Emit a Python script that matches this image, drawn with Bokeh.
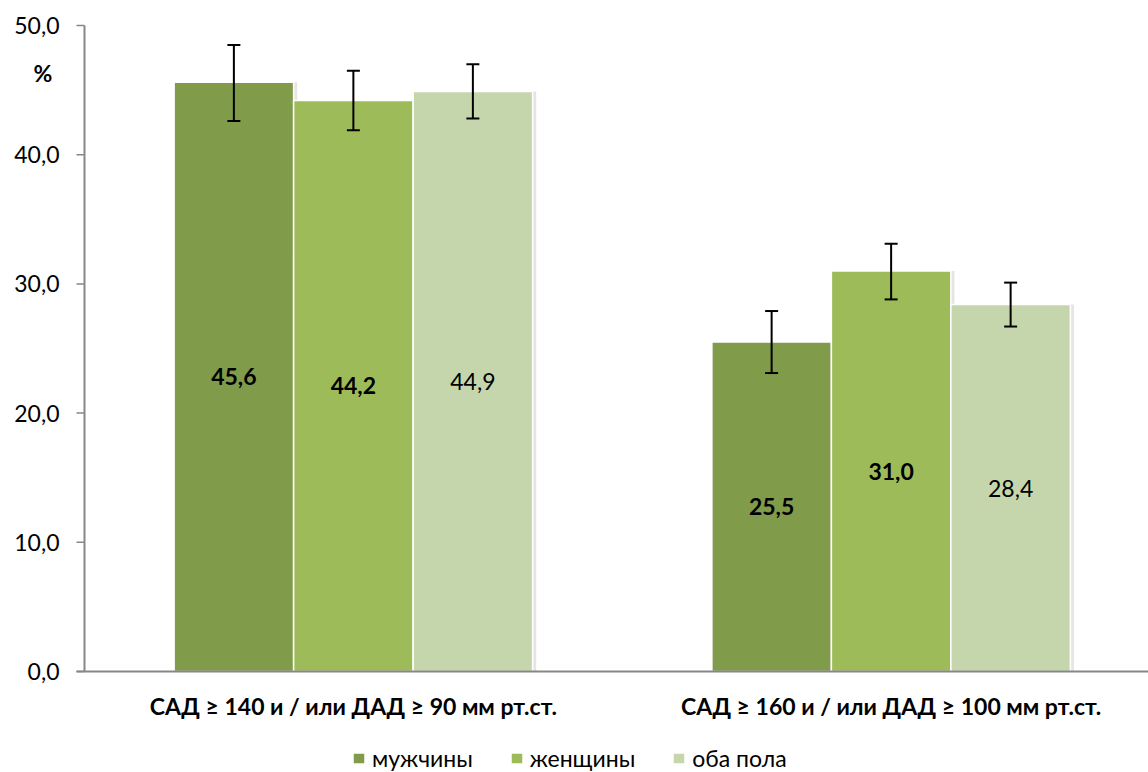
from bokeh.plotting import figure
from bokeh.models import (Range1d, Whisker, TeeHead, Legend, LegendItem, ColumnDataSource)
from bokeh.core.properties import value
from bokeh.embed import file_html
from bokeh.resources import INLINE

# ---- data ----
categories = ["САД ≥ 140 и / или ДАД ≥ 90 мм рт.ст.",
              "САД ≥ 160 и / или ДАД ≥ 100 мм рт.ст."]
series = ["мужчины", "женщины", "оба пола"]
men = [45.6, 25.5]
women = [44.2, 31.0]
both = [44.9, 28.4]
men_hi = [48.5, 27.9]
men_lo = [42.6, 23.1]
women_hi = [46.5, 33.1]
women_lo = [41.9, 28.8]
both_hi = [47.0, 30.1]
both_lo = [42.8, 26.7]
y_ticks = [0, 10, 20, 30, 40, 50]
y_tick_labels = ["0,0", "10,0", "20,0", "30,0", "40,0", "50,0"]
unit_label = "%"

# ---- styles / layout ----
colors = ["#809B4A", "#9EBB59", "#C6D6AC"]
label_styles = ["bold", "bold", "normal"]
FONT = "Lato"
FS = "23px"
AXIS_COLOR = "#878787"
W, H = 1148, 772
PX_X = 119.5            # pixels per bar unit
PX_Y = 646 / 50         # pixels per y unit
AXIS_LEFT_PX = 84       # y axis position (px from left)
AXIS_BOTTOM_PX = 671    # x axis position (px from top)
TOP_PX = 25             # y = 50 position
group_gap = 1.5
n_series = len(series)
group_step = n_series + group_gap
y_max = y_ticks[-1]

vals = [men, women, both]
his = [men_hi, women_hi, both_hi]
los = [men_lo, women_lo, both_lo]

x_axis_pos = -0.75                              # data x of y-axis
x_start = x_axis_pos - AXIS_LEFT_PX / PX_X
x_end = x_start + W / PX_X
y_top = y_max + TOP_PX / PX_Y
y_bottom = -(H - AXIS_BOTTOM_PX) / PX_Y
tick_len = 8 / PX_X

p = figure(width=W, height=H,
           x_range=Range1d(x_start, x_end), y_range=Range1d(y_bottom, y_top),
           x_axis_type=None, y_axis_type=None,
           output_backend="svg", toolbar_location=None,
           min_border=0, min_border_left=0, min_border_right=0,
           min_border_top=0, min_border_bottom=0)
p.grid.visible = False
p.outline_line_color = None
p.background_fill_color = "white"
p.border_fill_color = "white"

legend_items = []
for s in range(n_series):
    xs = [g * group_step + s + 0.5 for g in range(len(categories))]
    src = ColumnDataSource(dict(
        x=xs,
        xs=[x + 0.03 for x in xs],
        top=vals[s],
        mid=[v / 2 for v in vals[s]],
        hi=his[s],
        lo=los[s],
        label=[f"{v:.1f}".replace(".", ",") for v in vals[s]],
        style=[label_styles[s]] * len(xs),
    ))
    p.vbar(x="xs", top="top", bottom=0, width=1.0, source=src, fill_color="black",
           fill_alpha=0.10, line_color=None)
    r = p.vbar(x="x", top="top", bottom=0, width=1.0, source=src, fill_color=colors[s],
               line_color="white", line_width=1.5)
    legend_items.append(LegendItem(label=series[s], renderers=[r]))
    w = Whisker(base="x", upper="hi", lower="lo", source=src, level="overlay",
                line_color="black", line_width=2,
                upper_head=TeeHead(size=13, line_width=2, line_color="black"),
                lower_head=TeeHead(size=13, line_width=2, line_color="black"))
    p.add_layout(w)
    p.text(x="x", y="mid", text="label", source=src, text_font_style="style",
           text_align="center", text_baseline="middle",
           text_font=value(FONT), text_font_size=FS, text_color="black")

# ---- y axis (line, ticks, labels) ----
p.segment(x0=[x_axis_pos], y0=[0], x1=[x_axis_pos], y1=[y_max],
          line_color=AXIS_COLOR, line_width=2)
tick_src = ColumnDataSource(dict(
    y=y_ticks, lab=y_tick_labels,
    x0=[x_axis_pos - tick_len] * len(y_ticks), x1=[x_axis_pos] * len(y_ticks)))
p.segment(x0="x0", y0="y", x1="x1", y1="y", source=tick_src,
          line_color=AXIS_COLOR, line_width=1.5)
p.text(x="x0", y="y", text="lab", source=tick_src, x_offset=-17,
       text_align="right", text_baseline="middle",
       text_font=value(FONT), text_font_size=FS, text_color="black")
p.text(x=[x_axis_pos], y=[46.3], text=[unit_label], x_offset=-41.5,
       text_align="center", text_baseline="middle", text_font_style="bold",
       text_font=value(FONT), text_font_size=FS, text_color="black")

# ---- x axis (line, category labels) ----
p.segment(x0=[x_axis_pos - tick_len], y0=[0], x1=[x_end], y1=[0],
          line_color=AXIS_COLOR, line_width=2)
centers = [g * group_step + n_series / 2 for g in range(len(categories))]
cat_y = -(705 - AXIS_BOTTOM_PX) / PX_Y
p.text(x=centers, y=[cat_y] * len(centers), text=categories,
       text_align="center", text_baseline="middle", text_font_style="bold",
       text_font=value(FONT), text_font_size=FS, text_color="black")

# ---- legend ----
legend = Legend(items=legend_items, orientation="horizontal", location=(351, 0),
                glyph_width=15, glyph_height=14, label_standoff=6, spacing=36,
                padding=0, margin=0, border_line_color=None,
                background_fill_alpha=0,
                label_text_font=FONT, label_text_font_size=FS,
                label_text_color="black")
p.add_layout(legend, "center")

open("out.html", "w").write(file_html(p, INLINE))
